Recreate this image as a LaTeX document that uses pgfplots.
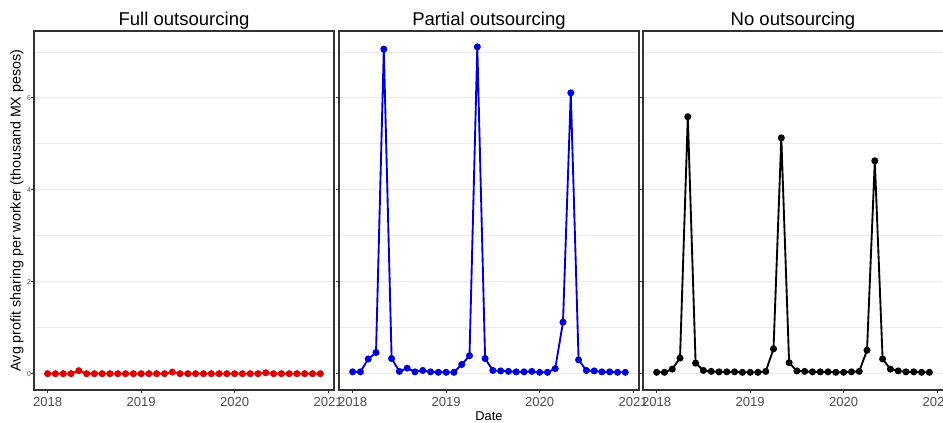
\documentclass[border=0pt]{standalone}
\usepackage{pgfplots}
\usepackage{pgfplotstable}
\pgfplotsset{compat=1.18}
\usepackage{fontspec}
\setmainfont{Liberation Sans}
\definecolor{gridc}{HTML}{EBEBEB}
\definecolor{tickc}{HTML}{4D4D4D}
\definecolor{bordc}{HTML}{333333}
\definecolor{cred}{RGB}{222,0,0}
\definecolor{cblue}{RGB}{0,0,210}
\pgfplotstableread{
x full partial none
2018.0000 0.00 0.04 0.03
2018.0833 0.00 0.04 0.03
2018.1667 0.00 0.32 0.10
2018.2500 0.00 0.46 0.34
2018.3333 0.065 7.06 5.59
2018.4167 0.00 0.33 0.23
2018.5000 0.00 0.05 0.07
2018.5833 0.00 0.12 0.05
2018.6667 0.00 0.04 0.04
2018.7500 0.00 0.07 0.04
2018.8333 0.00 0.04 0.04
2018.9167 0.00 0.03 0.03
2019.0000 0.00 0.03 0.03
2019.0833 0.00 0.03 0.03
2019.1667 0.00 0.20 0.05
2019.2500 0.00 0.39 0.54
2019.3333 0.035 7.11 5.13
2019.4167 0.00 0.33 0.24
2019.5000 0.00 0.07 0.06
2019.5833 0.00 0.06 0.05
2019.6667 0.00 0.05 0.04
2019.7500 0.00 0.04 0.04
2019.8333 0.00 0.04 0.04
2019.9167 0.00 0.05 0.03
2020.0000 0.00 0.03 0.03
2020.0833 0.00 0.03 0.04
2020.1667 0.00 0.11 0.05
2020.2500 0.00 1.12 0.51
2020.3333 0.02 6.11 4.63
2020.4167 0.00 0.30 0.32
2020.5000 0.00 0.07 0.10
2020.5833 0.00 0.06 0.06
2020.6667 0.00 0.04 0.04
2020.7500 0.00 0.04 0.04
2020.8333 0.00 0.03 0.03
2020.9167 0.00 0.03 0.03
}\datatab
\pgfplotsset{
  facet/.style={
    scale only axis,
    width=225pt, height=269.25pt,
    anchor=south west,
    xmin=2017.854, xmax=2021.063,
    ymin=-0.355, ymax=7.455,
    xtick={2018,2019,2020,2021},
    ytick={0,2,4,6},
    minor ytick={1,3,5,7},
    ymajorgrids, yminorgrids,
    major grid style={gridc, line width=0.7pt},
    minor grid style={gridc, line width=0.6pt},
    axis line style={bordc, line width=0.8pt},
    tick align=outside,
    major tick length=2.2pt,
    minor tick length=0pt,
    tick style={bordc, line width=0.6pt},
    xtick pos=bottom, ytick pos=left,
    /pgf/number format/assume math mode=true,
    /pgf/number format/1000 sep={},
    xticklabel style={font=\fontsize{9.8pt}{10pt}\selectfont, text=tickc, yshift=0.5pt},
    yticklabel style={font=\fontsize{5.2pt}{6pt}\selectfont, text=tickc, xshift=3.5pt},
    title style={font=\fontsize{13.9pt}{15pt}\selectfont, at={(0.5,1)}, anchor=base, yshift=-2.2pt},
    clip=false,
  },
  ser/.style={line width=1.4pt, mark=*, mark size=1.9pt, mark options={solid}},
}
\begin{document}
\begin{tikzpicture}
\useasboundingbox (0,0) rectangle (707.25pt,316.5pt);
\begin{axis}[facet, at={(25.5pt,24pt)}, title={Full outsourcing},
  ylabel={Avg profit sharing per worker (thousand MX pesos)},
  ylabel style={font=\fontsize{10.7pt}{12pt}\selectfont, at={(axis description cs:-0.0567,0.5)}, anchor=center}]
\addplot[ser, color=cred] table[x=x, y=full] {\datatab};
\end{axis}
\begin{axis}[facet, at={(254.25pt,24pt)}, title={Partial outsourcing}, yticklabels={},
  xlabel={Date},
  xlabel style={font=\fontsize{9.6pt}{10pt}\selectfont, at={(axis description cs:0.5,0)}, anchor=base, yshift=-23pt}]
\addplot[ser, color=cblue] table[x=x, y=partial] {\datatab};
\end{axis}
\begin{axis}[facet, at={(482.25pt,24pt)}, width=226pt, xmax=2021.077, title={No outsourcing}, yticklabels={},
  title style={xshift=-0.5pt}]
\addplot[ser, color=black] table[x=x, y=none] {\datatab};
\end{axis}
\end{tikzpicture}
\end{document}
